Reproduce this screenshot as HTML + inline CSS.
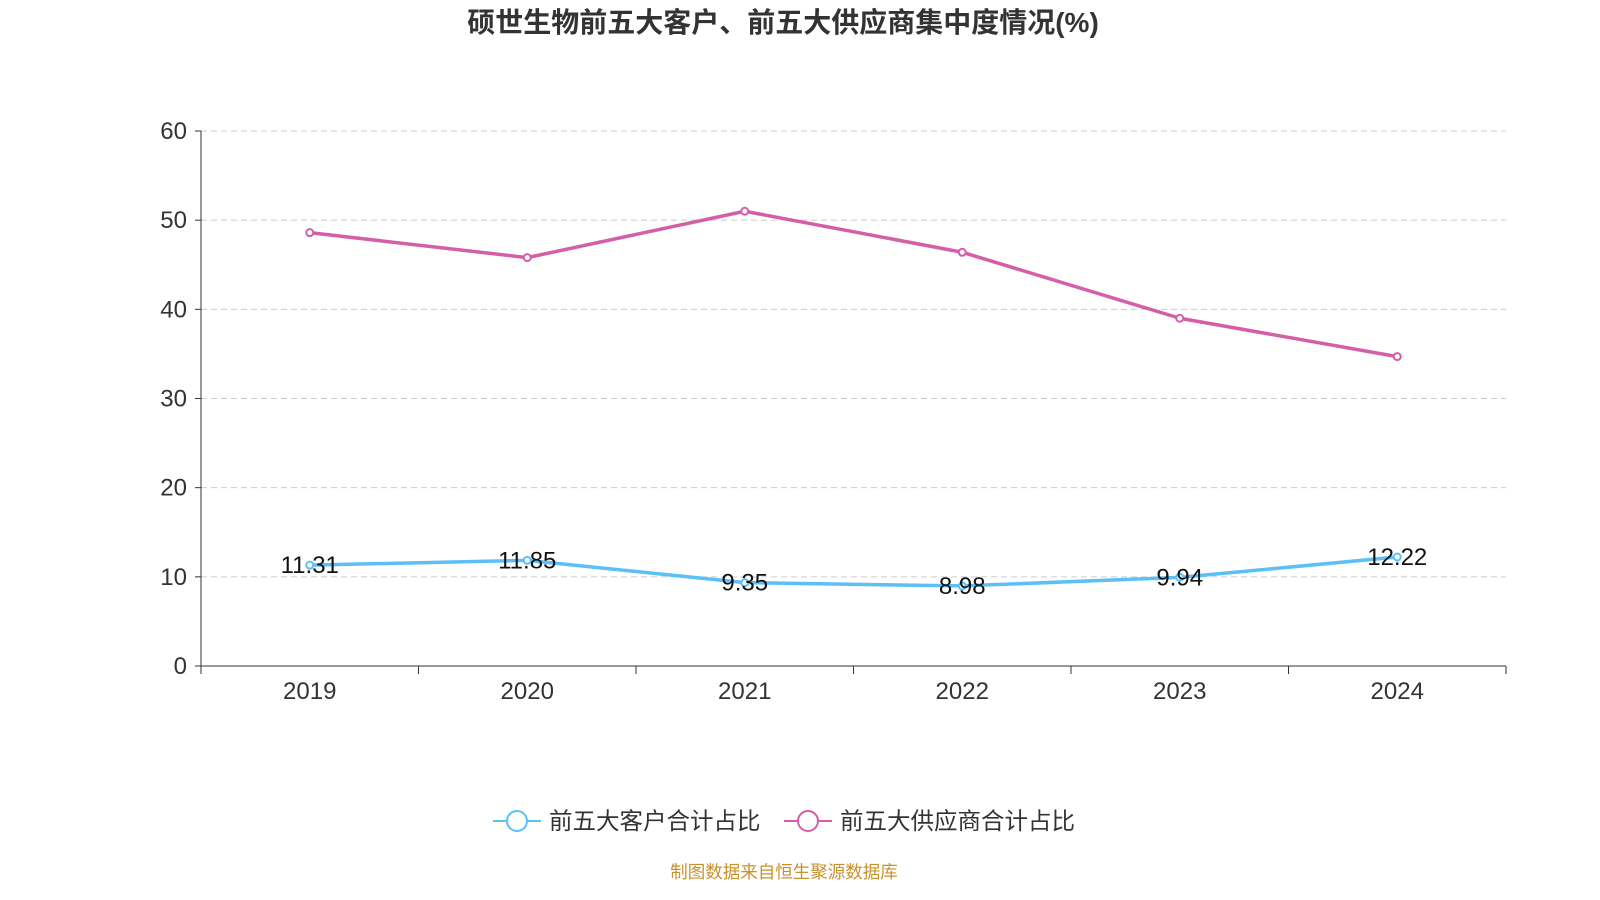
<!DOCTYPE html>
<html><head><meta charset="utf-8"><style>
html,body{margin:0;padding:0;background:#fff;width:1600px;height:900px;overflow:hidden}
svg{display:block;font-family:"Liberation Sans","Noto Sans CJK SC",sans-serif}
</style></head><body>
<svg id="chart" width="1600" height="900">
<text x="783" y="32" text-anchor="middle" font-size="28" font-weight="bold" fill="#333">硕世生物前五大客户、前五大供应商集中度情况(%)</text>
<g id="grid"></g><g id="axes"></g><g id="series"></g>
<g>
<g>
<line x1="493" y1="821" x2="541" y2="821" stroke="#5bc0f8" stroke-width="2"/>
<circle cx="517" cy="821" r="10" fill="#fff" stroke="#5bc0f8" stroke-width="2"/>
<text x="549" y="829" font-size="23.5" fill="#333">前五大客户合计占比</text></g>
<g>
<line x1="784" y1="821" x2="832" y2="821" stroke="#d45ea8" stroke-width="2"/>
<circle cx="808" cy="821" r="10" fill="#fff" stroke="#d45ea8" stroke-width="2"/>
<text x="840" y="829" font-size="23.5" fill="#333">前五大供应商合计占比</text></g>
</g>
<text x="784" y="878" text-anchor="middle" font-size="17.5" fill="#c8922a">制图数据来自恒生聚源数据库</text>
</svg>
<script>
const categories=["2019","2020","2021","2022","2023","2024"];
const customerValues=[11.31,11.85,9.35,8.98,9.94,12.22];
const supplierValues=[48.6,45.8,51.0,46.4,39.0,34.7];
const yTicks=[0,10,20,30,40,50,60];
const NS="http://www.w3.org/2000/svg";
const X0=201,X1=1506,Y0=666,Y1=131,YMAX=60;
const bw=(X1-X0)/categories.length;
const xs=i=>X0+bw*(i+0.5);
const ys=v=>Y0-(v/YMAX)*(Y0-Y1);
function mk(tag,attrs,parent){const e=document.createElementNS(NS,tag);for(const k in attrs)e.setAttribute(k,attrs[k]);parent.appendChild(e);return e;}
const grid=document.getElementById('grid'),axes=document.getElementById('axes'),ser=document.getElementById('series');
yTicks.forEach(t=>{
 const y=ys(t);
 if(t>0){const g=mk('line',{x1:X0,x2:X1,y1:y,y2:y,stroke:'#ccc','stroke-dasharray':'6,4'},grid);
 
 }
 mk('line',{x1:X0-6,x2:X0,y1:y,y2:y,stroke:'#333'},axes);
 const l=mk('text',{x:X0-14,y:y+8,'text-anchor':'end','font-size':24,fill:'#333'},axes);l.textContent=t;
 
 
});
mk('line',{x1:X0,x2:X0,y1:Y1,y2:Y0,stroke:'#333'},axes);
mk('line',{x1:X0,x2:X1,y1:Y0,y2:Y0,stroke:'#333'},axes);
for(let i=0;i<=categories.length;i++){const x=X0+bw*i;mk('line',{x1:x,x2:x,y1:Y0,y2:Y0+8,stroke:'#333'},axes);}
categories.forEach((c,i)=>{const t=mk('text',{x:xs(i),y:Y0+33,'text-anchor':'middle','font-size':24,fill:'#333'},axes);t.textContent=c;
 
 });
function draw(vals,color,name,labels){
 const p=mk('polyline',{points:vals.map((v,i)=>xs(i)+','+ys(v)).join(' '),fill:'none',stroke:color,'stroke-width':3.5,'stroke-linejoin':'round'},ser);
 
 
 vals.forEach((v,i)=>{
  const c=mk('circle',{cx:xs(i),cy:ys(v),r:3.5,fill:'#fff',stroke:color,'stroke-width':2},ser);
  
  
  if(labels){const t=mk('text',{x:xs(i),y:ys(v)+8,'text-anchor':'middle','font-size':24,fill:'#111'},ser);t.textContent=v.toFixed(2);
   
   }
 });
}
draw(supplierValues,'#d45ea8','supplier',false);
draw(customerValues,'#5bc0f8','customer',true);
</script>
</body></html>
